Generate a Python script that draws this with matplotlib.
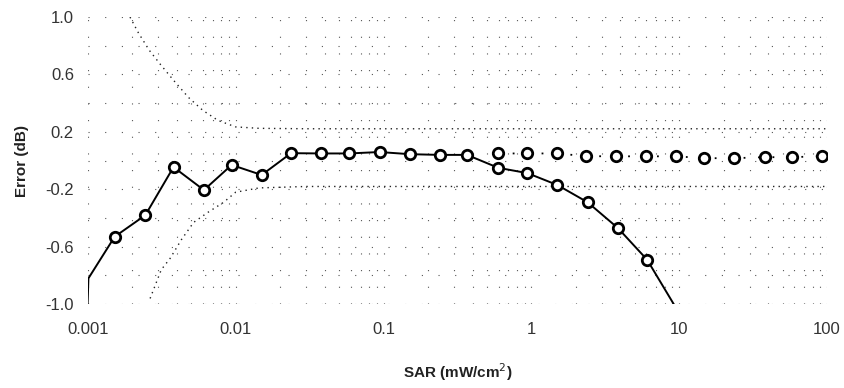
import matplotlib
matplotlib.use("Agg")
import matplotlib.pyplot as plt
from matplotlib.ticker import FixedLocator, NullFormatter
import numpy as np

plt.rcParams['font.family'] = ['Liberation Sans', 'DejaVu Sans']

# measured error, full range (solid line)
sar_main = [0.00099, 0.00101, 0.00152, 0.00245, 0.0038, 0.0061, 0.0094, 0.0150,
            0.0237, 0.0379, 0.0587, 0.094, 0.150, 0.240, 0.367, 0.597, 0.94,
            1.50, 2.40, 3.85, 6.06, 10.5]
err_main = [-1.10, -0.82, -0.53, -0.38, -0.045, -0.205, -0.03, -0.10,
            0.052, 0.05, 0.05, 0.06, 0.045, 0.04, 0.04, -0.05, -0.087,
            -0.17, -0.29, -0.47, -0.69, -1.10]
mark_main = list(range(2, 21))

# corrected error, high SAR (dotted line)
sar_corr = [0.597, 0.94, 1.50, 2.33, 3.72, 5.97, 9.55, 14.8, 23.3, 37.8, 57.8, 92.5]
err_corr = [0.05, 0.05, 0.05, 0.031, 0.03, 0.03, 0.03, 0.017, 0.017, 0.024, 0.024, 0.031]

# tolerance limits
sar_upper = [0.00193, 0.0022, 0.0026, 0.0031, 0.0038, 0.0048, 0.006, 0.0076, 0.01, 0.0144, 0.03, 100]
lim_upper = [1.0, 0.89, 0.77, 0.67, 0.56, 0.44, 0.35, 0.28, 0.235, 0.225, 0.222, 0.222]
sar_lower = [0.00264, 0.00314, 0.00361, 0.0043, 0.0052, 0.0065, 0.0083, 0.01, 0.0144, 0.03, 100]
lim_lower = [-0.96, -0.76, -0.68, -0.55, -0.43, -0.36, -0.29, -0.22, -0.19, -0.18, -0.18]

xticks = [0.001, 0.01, 0.1, 1, 10, 100]
xticklabels = ["0.001", "0.01", "0.1", "1", "10", "100"]
yticks = [1.0, 0.6, 0.2, -0.2, -0.6, -1.0]
yticklabels = ["1.0", "0.6", "0.2", "-0.2", "-0.6", "-1.0"]

fig = plt.figure(figsize=(8.44, 3.88), dpi=100)
ax = fig.add_axes([0.104, 0.216, 0.876, 0.740])
ax.set_xscale("log")
ax.set_xlim(0.001, 100)
ax.set_ylim(-1.0, 1.0)

# sparse dotted grid
minor_x = [m * 10.0 ** e for e in range(-3, 2) for m in range(2, 10)]
for xv in minor_x + xticks:
    ax.axvline(xv, color="#555555", lw=0.8, ls=(0, (1, 14)), zorder=0)
for yv in np.arange(-1.0, 1.01, 0.2):
    ax.axhline(yv, color="#555555", lw=0.8, ls=(0, (1, 14)), zorder=0)

ax.plot(sar_upper, lim_upper, color="#222222", lw=1.0, ls=(0, (1, 3)), zorder=1)
ax.plot(sar_lower, lim_lower, color="#222222", lw=1.0, ls=(0, (1, 3)), zorder=1)

ax.plot(sar_corr, err_corr, color="black", lw=1.3, ls=(0, (1, 7)),
        marker="o", markersize=7.5, markerfacecolor="white",
        markeredgecolor="black", markeredgewidth=2.0, zorder=3)
ax.plot(sar_main, err_main, color="black", lw=1.4, marker="o", markevery=mark_main,
        markersize=7.5, markerfacecolor="white", markeredgecolor="black",
        markeredgewidth=2.0, zorder=4)

for s in ax.spines.values():
    s.set_visible(False)
ax.xaxis.set_major_locator(FixedLocator(xticks))
ax.xaxis.set_minor_formatter(NullFormatter())
ax.set_xticklabels(xticklabels)
ax.set_yticks(yticks)
ax.set_yticklabels(yticklabels)
ax.tick_params(axis="both", which="both", length=0, labelsize=12, labelcolor="#333333")
ax.tick_params(axis="x", pad=13)
ax.tick_params(axis="y", pad=10)

ax.set_xlabel("SAR (mW/cm$^2$)", fontsize=11, fontweight="bold", color="#222222", labelpad=17)
ax.set_ylabel("Error (dB)", fontsize=11, fontweight="bold", color="#222222", labelpad=12)

fig.savefig("out.png", dpi=100)
